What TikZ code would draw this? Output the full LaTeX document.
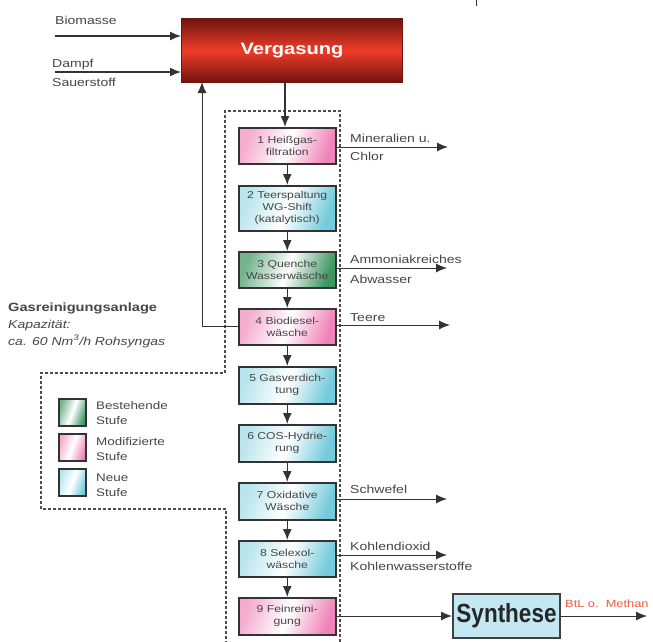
\documentclass[tikz,border=0pt]{standalone}
\usepackage{fontspec}
\setmainfont[FakeStretch=1.22]{Liberation Sans}
\newfontfamily\plainfont{Liberation Sans}
\usetikzlibrary{arrows.meta}
\definecolor{txt}{RGB}{70,70,70}
\definecolor{pinkc}{RGB}{235,90,160}
\definecolor{bluec}{RGB}{80,190,210}
\definecolor{greenc}{RGB}{40,140,80}
\definecolor{redc}{RGB}{240,60,40}
\definecolor{darkred}{RGB}{110,20,15}
\definecolor{synfill}{RGB}{195,232,242}
\definecolor{outred}{RGB}{235,90,60}
\begin{document}
\begin{tikzpicture}[x=1pt,y=-1pt,
  stage/.style={draw=black!80, line width=1.5pt, minimum width=97pt, minimum height=36pt,
    inner sep=1pt, font=\fontsize{10}{12}\selectfont, text=txt, align=center, anchor=north west},
  pinkfill/.style={left color=pinkc!50!white, right color=pinkc!75!white, middle color=white, shading angle=70},
  bluefill/.style={left color=bluec!40!white, right color=bluec!80!white, middle color=white, shading angle=70},
  greenfill/.style={left color=greenc!65!white, right color=greenc!90!white, middle color=white, shading angle=70},
  legbox/.style={draw=black!80, line width=1.5pt, minimum width=27pt, minimum height=27pt, inner sep=0pt, anchor=north west},
  flow/.style={draw=black!80, line width=1.4pt, -{Latex[length=11pt,width=9pt]}},
  outarrow/.style={draw=black!80, line width=1pt, -{Latex[length=11pt,width=9pt]}},
  lbl/.style={font=\fontsize{11.5}{13}\selectfont, text=txt, anchor=base west, inner sep=0pt},
  leg/.style={font=\fontsize{11}{12}\selectfont, text=txt, anchor=base west, inner sep=0pt, align=left},
  bnd/.style={draw=black!70, line width=1.2pt, dash pattern=on 3pt off 2pt}
]
\useasboundingbox (0,0) rectangle (653,642);

% stray tick
\draw[black!80, line width=0.8pt] (476,0) -- (476,6);

% Vergasung
\node[draw=darkred, line width=1pt, top color=darkred, bottom color=darkred, middle color=redc,
  minimum width=221pt, minimum height=64pt, anchor=north west, inner sep=0pt,
  font=\bfseries\fontsize{16.5}{20}\selectfont, text=white] (verg) at (181,18) {Vergasung};

% inputs
\coordinate (bioS) at (55,36);
\coordinate (dampfS) at (55,72);
\draw[flow] (bioS) -- (bioS -| verg.west);
\draw[flow] (dampfS) -- (dampfS -| verg.west);
\node[lbl] (bio) at (55,25) {Biomasse};
\node[lbl] (dampf) at (52,67) {Dampf};
\node[lbl] (sauer) at (52,86) {Sauerstoff};

% dashed boundary
\draw[bnd] (340,642) -- (340,111) -- (225,111) -- (225,373) -- (41,373) -- (41,509) -- (226,509) -- (226,642);

% stages
\node[stage, pinkfill] (b1) at (238,127) {1 Heißgas-\\filtration};
\node[stage, bluefill, minimum height=45pt] (b2) at (238,185) {2 Teerspaltung\\WG-Shift\\(katalytisch)};
\node[stage, greenfill] (b3) at (238,251) {3 Quenche\\Wasserwäsche};
\node[stage, pinkfill] (b4) at (238,308) {4 Biodiesel-\\wäsche};
\node[stage, bluefill, minimum height=37pt] (b5) at (238,366) {5 Gasverdich-\\tung};
\node[stage, bluefill, minimum height=37pt] (b6) at (238,424) {6 COS-Hydrie-\\rung};
\node[stage, bluefill, minimum height=37pt] (b7) at (238,482) {7 Oxidative\\Wäsche};
\node[stage, bluefill] (b8) at (238,540) {8 Selexol-\\wäsche};
\node[stage, pinkfill, minimum height=37pt] (b9) at (238,597) {9 Feinreini-\\gung};

% main flow
\coordinate (vtop) at (285,82);
\draw[flow] (vtop) -- (vtop |- b1.north);
\draw[flow] (b1) -- (b2);
\draw[flow] (b2) -- (b3);
\draw[flow] (b3) -- (b4);
\draw[flow] (b4) -- (b5);
\draw[flow] (b5) -- (b6);
\draw[flow] (b6) -- (b7);
\draw[flow] (b7) -- (b8);
\draw[flow] (b8) -- (b9);

% recycle
\coordinate (rc) at (202,82);
\draw[flow, line width=1pt] (b4.west) -| (rc);

% outputs
\coordinate (o1) at (448,147);
\coordinate (o3) at (447,268);
\coordinate (o4) at (450,325);
\coordinate (o7) at (447,499);
\coordinate (o8) at (447,555);
\draw[outarrow] (b1.east |- o1) -- (o1);
\draw[outarrow] (b3.east |- o3) -- (o3);
\draw[outarrow] (b4.east |- o4) -- (o4);
\draw[outarrow] (b7.east |- o7) -- (o7);
\draw[outarrow] (b8.east |- o8) -- (o8);
\node[lbl] (t1a) at (350,142) {Mineralien u.};
\node[lbl] (t1b) at (350,160) {Chlor};
\node[lbl] (t3a) at (350,263) {Ammoniakreiches};
\node[lbl] (t3b) at (350,283) {Abwasser};
\node[lbl] (t4) at (350,321) {Teere};
\node[lbl] (t7) at (350,493) {Schwefel};
\node[lbl] (t8a) at (350,550) {Kohlendioxid};
\node[lbl] (t8b) at (350,570) {Kohlenwasserstoffe};

% Synthese
\node[draw=black!75, line width=2pt, fill=synfill, minimum width=107pt, minimum height=44pt,
  anchor=north west, inner sep=0pt, text=black!85] (syn) at (452,593)
  {\plainfont\bfseries\fontsize{25}{28}\selectfont\scalebox{0.9}[1.05]{Synthese}};
\draw[outarrow] (b9.east |- syn.west) -- (syn.west);
\coordinate (fin) at (647,614);
\draw[outarrow] (syn.east) -- (syn.east -| fin);
\node[lbl, text=outred, font=\fontsize{10.5}{12}\selectfont] (btl) at (565,607) {BtL o.\ \ Methan};

% side text
\node[lbl, font=\bfseries\fontsize{12}{14}\selectfont] (gas) at (8,311) {Gasreinigungsanlage};
\node[lbl, font=\itshape\fontsize{11.5}{13}\selectfont] (kap) at (8,328) {Kapazität:};
\node[lbl, font=\itshape\fontsize{11.5}{13}\selectfont] (cap) at (8,345) {ca. 60 Nm\textsuperscript{3}/h Rohsyngas};

% legend
\node[legbox, greenfill] (lg) at (58,398) {};
\node[legbox, pinkfill] (lp) at (58,433) {};
\node[legbox, bluefill] (lb) at (58,468) {};
\node[leg] (lgt) at (96,409) {Bestehende};
\node[leg] (lgt2) at (96,424) {Stufe};
\node[leg] (lpt) at (96,445) {Modifizierte};
\node[leg] (lpt2) at (96,460) {Stufe};
\node[leg] (lbt) at (96,481) {Neue};
\node[leg] (lbt2) at (96,496) {Stufe};
\end{tikzpicture}
\end{document}
